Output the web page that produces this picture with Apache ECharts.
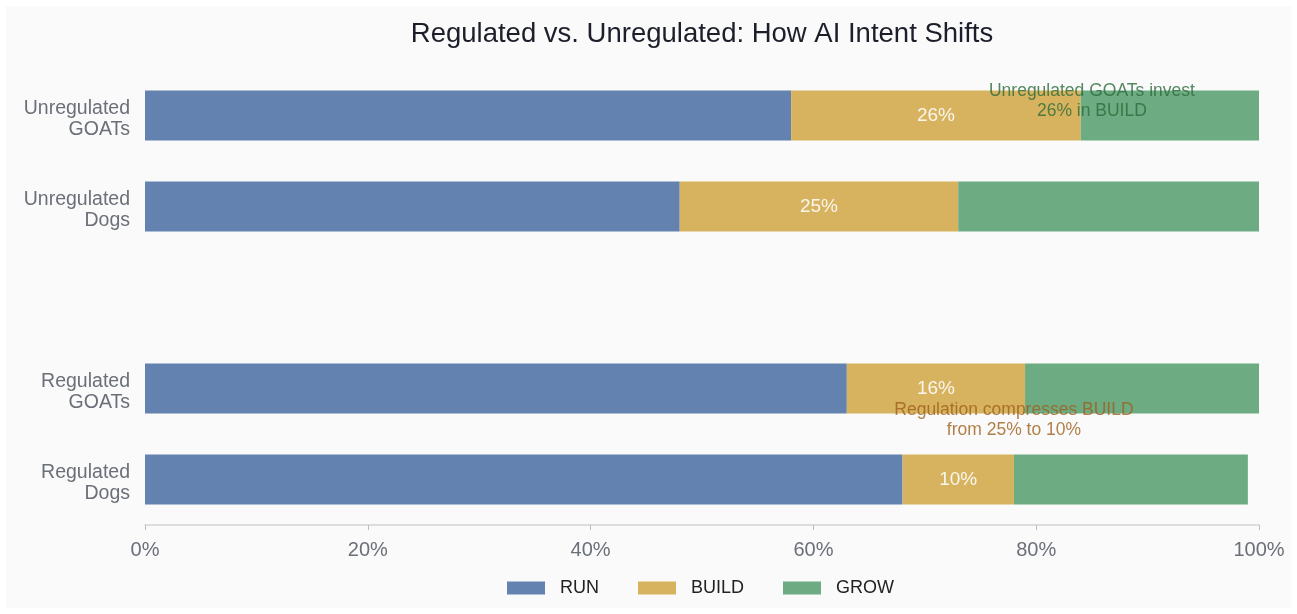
<!DOCTYPE html>
<html>
<head>
<meta charset="utf-8">
<script src="https://cdn.jsdelivr.net/npm/echarts@6/dist/echarts.min.js"></script>
<style>
html,body{margin:0;padding:0;background:#ffffff;}
#bg{position:absolute;left:6px;top:6px;width:1285px;height:602px;background:#fafafa;}
#chart{position:absolute;left:0;top:0;width:1297px;height:614px;}
</style>
</head>
<body>
<div id="bg"></div>
<div id="chart"></div>
<script>
const categories = ['Unregulated\nGOATs', 'Unregulated\nDogs', '', 'Regulated\nGOATs', 'Regulated\nDogs'];
const runValues = [58, 48, null, 63, 68];
const buildValues = [26, 25, null, 16, 10];
const growValues = [16, 27, null, 21, 21];
const xTicks = [0, 20, 40, 60, 80, 100];
const annotations = [
  { x: 85, cat: 'Unregulated\nGOATs', text: 'Unregulated GOATs invest\n26% in BUILD', color: '#2c6b39', dy: -14 },
  { x: 78, cat: 'Regulated\nGOATs', text: 'Regulation compresses BUILD\nfrom 25% to 10%', color: '#9d5f1b', dy: 32 }
];

const chart = echarts.init(document.getElementById('chart'), null, { renderer: 'canvas' });
const FONT = '"Liberation Sans", Arial, Helvetica, sans-serif';

const option = {
  backgroundColor: 'transparent',
  textStyle: { fontFamily: FONT },
  title: {
    text: 'Regulated vs. Unregulated: How AI Intent Shifts',
    left: 697, top: 15, textAlign: 'center',
    textStyle: { fontFamily: FONT, fontSize: 27.5, fontWeight: 'normal', color: '#1c1f2a' }
  },
  legend: {
    data: ['RUN', 'BUILD', 'GROW'],
    left: 502, top: 574,
    itemWidth: 38, itemHeight: 13, itemGap: 39,
    icon: 'rect',
    textStyle: { fontFamily: FONT, fontSize: 18, color: '#222', padding: [0, 0, 0, 10] }
  },
  grid: { left: 145, right: 38, top: 70, height: 455, containLabel: false },
  xAxis: {
    type: 'value', min: xTicks[0], max: xTicks[xTicks.length - 1], interval: 20,
    axisLine: { show: true, lineStyle: { color: '#d4d4d4', width: 1.5 } },
    axisTick: { show: true, length: 5, lineStyle: { color: '#bdbdbd' } },
    splitLine: { show: false },
    axisLabel: { formatter: '{value}%', fontSize: 20, color: '#6b6f78', margin: 15, fontFamily: FONT }
  },
  yAxis: {
    type: 'category', data: categories, inverse: true,
    axisLine: { show: false }, axisTick: { show: false },
    axisLabel: {
      margin: 15, align: 'right',
      formatter: v => v ? '{s| }\n' + v.split('\n').map(s => '{a|' + s + '}').join('\n') : '',
      rich: {
        s: { fontSize: 1, lineHeight: 8 },
        a: { fontSize: 19.5, lineHeight: 21, color: '#6b6f78', fontFamily: FONT, align: 'right' }
      }
    }
  },
  series: [
    { name: 'RUN', type: 'bar', stack: 'a', data: runValues, barWidth: 50, itemStyle: { color: '#6382b0' } },
    { name: 'BUILD', type: 'bar', stack: 'a', data: buildValues, barWidth: 50, itemStyle: { color: '#d7b35f' },
      label: { show: true, position: 'inside', formatter: '{c}%', fontSize: 19, color: 'rgba(255,255,255,0.88)', fontFamily: FONT } },
    { name: 'GROW', type: 'bar', stack: 'a', data: growValues, barWidth: 50, itemStyle: { color: '#6dab82' } },
    {
      name: 'notes', type: 'scatter', symbolSize: 0, silent: true, z: 10,
      data: annotations.map(a => ({
        value: [a.x, a.cat],
        label: { show: true, position: 'inside', offset: [0, a.dy], formatter: a.text, color: a.color,
                 fontSize: 17.5, lineHeight: 20, fontFamily: FONT, align: 'center' }
      }))
    }
  ]
};
chart.setOption(option);
</script>
</body>
</html>
